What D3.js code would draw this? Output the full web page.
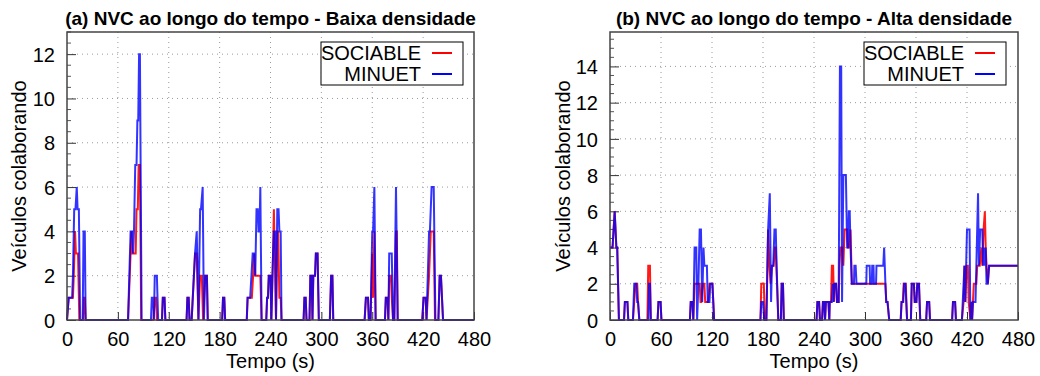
<!DOCTYPE html>
<html>
<head>
<meta charset="utf-8">
<script src="https://cdn.jsdelivr.net/npm/d3@7"></script>
<style>
  body { margin: 0; background: #ffffff; }
  text { font-family: "Liberation Sans", Arial, sans-serif; fill: #000; }
</style>
</head>
<body>
<script>
// Define SVG area dimensions
var svgWidth = 1040;
var svgHeight = 376;

// Tick values and labels
var xTicks = [0, 60, 120, 180, 240, 300, 360, 420, 480];
var yTicksA = [0, 2, 4, 6, 8, 10, 12];
var yTicksB = [0, 2, 4, 6, 8, 10, 12, 14];
var seriesNames = ["SOCIABLE", "MINUET"];
var titleA = "(a) NVC ao longo do tempo - Baixa densidade";
var titleB = "(b) NVC ao longo do tempo - Alta densidade";
var xLabel = "Tempo (s)";
var yLabel = "Veículos colaborando";

// (a) baixa densidade - [tempo, veiculos]
var sociableA = [[0,0],[2,1],[7,1],[8,2],[9.5,4],[10.5,3],[13,3],[14.5,0],
  [19,0],[20,1],[21,1],[22,0],
  [72,0],[75,3],[76,4],[77,3],[81,3],[82,5],[83.5,5],[84.5,7],[86,7],[87.5,0],
  [102,0],[103.5,1],[105,1],[106,0],
  [112,0],[113,1],[115,1],[116,0],
  [141,0],[142,1],[143.5,1],[144.5,0],
  [147,0],[151,3],[153,3],[155,0],[157,2],[159,2],[160.5,0],[163,2],[165,2],[166,0],
  [183,0],[184,1],[185.5,1],[186.5,0],
  [212,0],[213,1],[218,1],[219.5,2],[221,3],[222,2],[228,2],[229.5,0],
  [235,0],[236,1],[237,1],[238,2],[240,2],[241,0],[243,3],[244,5],[245,3],[246.5,0],[248,4],[249,4],[250.5,1],[252,1],[253,0],
  [279,0],[280,1],[281.5,1],[282.5,0],[286,0],[287,2],[288.5,2],[289.5,0],[290.5,2],[292.5,2],[293.5,3],[295.5,3],[297,0],
  [310,0],[311.5,2],[313,2],[314,0],
  [351,0],[352.5,1],[355,1],[356,0],[358,0],[360,3],[361,1],[362.5,4],[364,0],
  [375,0],[376,1],[378,1],[379,0],[380,2],[382,2],[383,1],[384.5,0],[386,0],[388,4],[389,4],[390,0],
  [419,0],[420.5,1],[423,1],[424,0],[427,2],[428,3],[429,4],[432.5,4],[434,0],[438,0],[439.5,2],[441,2],[443.5,0],[480,0]];

var minuetA = [[0,0],[2,1],[6,1],[7,2],[8.5,5],[10,5],[11.5,6],[12.5,5],[14,5],[15.5,0],
  [18.5,0],[19.5,4],[21,4],[22,0],
  [72,0],[75,4],[77,4],[78,3],[79,4],[80.5,7],[82,7],[83,9],[84,9],[85,12],[86,12],[88,0],
  [99,0],[100,1],[101.5,1],[102.5,0],[103.5,2],[106,2],[107.5,0],
  [112,0],[113,1],[115,1],[116,0],
  [141,0],[142,1],[143.5,1],[144.5,0],
  [147,0],[151,3],[153,4],[155,0],[157,5],[158,5],[160,6],[161.5,0],[163,2],[165,2],[166,0],
  [183,0],[184,1],[185.5,1],[186.5,0],
  [212,0],[213,1],[216,1],[219,3],[221,3],[222,2],[223.5,5],[225,5],[226,4],[227,4],[228,6],[229.5,0],
  [235,0],[236,1],[237,1],[238,2],[240,2],[241,0],[243,3],[244,4],[245.5,4],[246.5,0],[248,5],[249.5,5],[250.5,4],[252,4],[253,0],
  [279,0],[280,1],[281.5,1],[282.5,0],[286,0],[287,2],[288.5,2],[289.5,0],[290.5,2],[292.5,2],[293.5,3],[295.5,3],[297,0],
  [310,0],[311.5,2],[313,2],[314,0],
  [351,0],[352.5,1],[355,1],[356,0],[358,0],[360,4],[361,4],[362.5,6],[364,0],
  [375,0],[376,1],[378,1],[379,0],[380,3],[383,3],[384.5,0],[386,0],[388,6],[390,0],
  [419,0],[420.5,1],[423,1],[424,0],[427,4],[428,4],[430,6],[432.5,6],[434.5,0],[438,0],[439.5,2],[441,2],[443.5,0],[480,0]];

// (b) alta densidade
var sociableB = [[0,4],[3,4],[5.5,6],[7.5,4],[8.5,4],[10.5,0],
  [16.5,0],[17.5,1],[20.5,1],[21.5,0],
  [27,0],[28.5,1],[30,2],[32,2],[33,1],[34.5,0],
  [44,0],[45,3],[47,3],[48,0],
  [56,0],[57,1],[59.5,1],[60.5,0],
  [94,0],[95,1],[97,1],[98,0],[99.5,2],[103.5,2],[105.5,2],[106.5,1],[107.5,1],[109,2],[111,2],[112,1],[115.5,1],[117,2],[120.5,2],[122.5,0],
  [177,0],[178,2],[181,2],[182,0],[184,0],[186,5],[187.5,3],[189,2],[190.5,3],[192.5,3],[194,4],[195,4],[196.5,2],[198,0],
  [201,0],[202,2],[203.5,2],[204.5,0],
  [243,0],[244,1],[246,1],[247,0],[249.5,0],[250.5,1],[252,1],[253,0],[254,1],[257,1],[258,0],[258.5,1],[260,1],[261,3],[262.5,3],[263.5,1],[264,2],[266,2],[267,1],[269,1],[270,3],[271,4],[273,4],[274.5,3],[276,5],[279,5],[280,4],[282,4],[283,5],[284.5,2],
  [322.5,2],[324,2],[325,1],[326.5,1],[328.5,0],
  [342,0],[343,1],[344.5,1],[345.5,2],[348,2],[349.5,0],[354,0],[355,2],[357.5,2],[358.5,1],[360.5,1],[361.5,2],[363.5,2],[365,0],
  [372,0],[373,1],[375.5,1],[376.5,0],
  [402.5,0],[403.5,1],[406,1],[407,0],
  [414,0],[416,1],[417,3],[418,1],[419.5,3],[421,3],[422,1],[424,0],[425,1],[426,0],[427,1],[428,2],[431,2],[432,3],[435,3],[437,4],[438,3],[439.5,5],[441,6],[442,4],[443,3],[444.5,2],[446,3],[480,3]];

var minuetB = [[0,4],[3,4],[5.5,6],[7.5,4],[8.5,4],[10.5,0],
  [16.5,0],[17.5,1],[20.5,1],[21.5,0],
  [27,0],[28.5,2],[31,2],[32,1],[33,1],[34.5,0],
  [45,0],[46,2],[47,2],[48,0],
  [56,0],[57,1],[59.5,1],[60.5,0],
  [94,0],[95,1],[97,1],[98,0],[99.5,4],[101.5,4],[102.5,0],[104,2],[105.5,5],[107,5],[108.5,1],[110,4],[111,3],[114,3],[115,1],[117,1],[118,2],[120.5,2],[122.5,0],
  [177,0],[178,1],[180,1],[181.5,0],[184,0],[186,5],[188,7],[189.5,1],[190.5,3],[192,3],[193.5,5],[195,5],[196,3],[198,0],
  [201,0],[202,2],[203.5,2],[204.5,0],
  [243,0],[244,1],[246,1],[247,0],[249.5,0],[250.5,1],[252,1],[253,0],[254,1],[257,1],[258,0],[258.5,1],[261,1],[262,2],[263,1],[264,2],[266,2],[267,1],[269,1],[270.5,14],[272,14],[273,1],[274.5,8],[277.5,8],[279,4],[280,4],[281,6],[282,6],[283,4],[284.5,2],
  [287,2],[287.5,3],[289,3],[290,2],[301.5,2],[302,3],[305.5,3],[306,2],[308,2],[308.5,3],[310,3],[310.5,2],[313,2],[313.5,3],[321.5,3],[322.5,4],[324,2],[325,1],[326.5,1],[328.5,0],
  [342,0],[343,1],[345,1],[346,2],[347.5,2],[349.5,0],[354,0],[355,2],[357.5,2],[358.5,1],[360.5,1],[361.5,2],[363.5,2],[365,0],
  [372,0],[373,1],[375.5,1],[376.5,0],
  [402.5,0],[403.5,1],[406,1],[407,0],
  [414,0],[417,3],[418,1],[420,5],[423,5],[424,0],[425,1],[426,0],[427,1],[430,1],[431,3],[433,7],[434,3],[435.5,5],[438,5],[439,3],[440,4],[441,3],[442,4],[443,2],[444.5,2],[446,3],[480,3]];

var seriesColors = ["#ff0000", "#0000ff"];

var svg = d3.select("body")
  .append("svg")
  .attr("width", svgWidth)
  .attr("height", svgHeight);

// one panel of the figure
function drawPanel(p) {
  var g = svg.append("g");

  var x = d3.scaleLinear().domain([0, 480]).range([p.left, p.right]);
  var y = d3.scaleLinear().domain([0, p.yMax]).range([p.bottom, p.top]);

  // dotted grid
  g.selectAll(".vgrid").data(xTicks.slice(1, -1)).enter().append("line")
    .attr("x1", d => x(d)).attr("x2", d => x(d))
    .attr("y1", p.top).attr("y2", p.bottom)
    .attr("stroke", "#9a9a9a").attr("stroke-width", 1)
    .attr("stroke-dasharray", "1,4");
  g.selectAll(".hgrid").data(p.yTicks.slice(1)).enter().append("line")
    .attr("x1", p.left).attr("x2", p.right)
    .attr("y1", d => y(d)).attr("y2", d => y(d))
    .attr("stroke", "#9a9a9a").attr("stroke-width", 1)
    .attr("stroke-dasharray", "1,4");

  // axes with inward ticks
  var xAxis = g.append("g")
    .attr("transform", "translate(0," + p.bottom + ")")
    .call(d3.axisBottom(x).tickValues(xTicks).tickSizeInner(-8).tickSizeOuter(0).tickPadding(12));
  var yAxis = g.append("g")
    .attr("transform", "translate(" + p.left + ",0)")
    .call(d3.axisLeft(y).tickValues(p.yTicks).tickSizeInner(-9).tickSizeOuter(0).tickPadding(12));
  [xAxis, yAxis].forEach(function(a) {
    a.select(".domain").remove();
    a.selectAll("line").attr("stroke", "#333");
    a.selectAll("text")
      .style("font-family", "'Liberation Sans', Arial, sans-serif")
      .style("font-size", "20px")
      .attr("fill", "#000");
  });
  yAxis.selectAll("text").attr("dy", "0.36em");

  // minor y ticks
  var minor = d3.range(0, p.yMax + 0.01, 0.5).filter(d => d % 2 !== 0);
  g.selectAll(".minor").data(minor).enter().append("line")
    .attr("x1", p.left).attr("x2", p.left + 4)
    .attr("y1", d => y(d)).attr("y2", d => y(d))
    .attr("stroke", "#555").attr("stroke-width", 1);

  // series lines: SOCIABLE underneath, MINUET on top
  var line = d3.line().x(d => x(d[0])).y(d => y(d[1]));
  g.append("path").datum(p.sociable)
    .attr("d", line).attr("fill", "none")
    .attr("stroke", seriesColors[0]).attr("stroke-width", 2)
    .attr("stroke-linejoin", "miter").attr("stroke-opacity", 0.9);
  g.append("path").datum(p.minuet)
    .attr("d", line).attr("fill", "none")
    .attr("stroke", seriesColors[1]).attr("stroke-width", 2)
    .attr("stroke-linejoin", "miter").attr("stroke-opacity", 0.8);

  // frame
  g.append("rect")
    .attr("x", p.left).attr("y", p.top)
    .attr("width", p.right - p.left).attr("height", p.bottom - p.top)
    .attr("fill", "none").attr("stroke", "#444").attr("stroke-width", 1.5);

  // title
  g.append("text")
    .attr("x", (p.left + p.right) / 2).attr("y", 25)
    .attr("text-anchor", "middle")
    .style("font-size", "19px").style("font-weight", "bold")
    .text(p.title);

  // axis labels
  g.append("text")
    .attr("x", (p.left + p.right) / 2).attr("y", 368)
    .attr("text-anchor", "middle")
    .style("font-size", "20px")
    .text(xLabel);
  g.append("text")
    .attr("transform", "translate(" + p.yLabelX + "," + (p.top + p.bottom) / 2 + ") rotate(-90)")
    .attr("text-anchor", "middle")
    .style("font-size", "20px")
    .text(yLabel);

  // legend
  var lg = g.append("g");
  lg.append("rect")
    .attr("x", p.legX).attr("y", 42).attr("width", 142).attr("height", 43)
    .attr("fill", "#fff").attr("stroke", "#000").attr("stroke-width", 1);
  seriesNames.forEach(function(name, i) {
    var ly = 53 + i * 21;
    lg.append("text")
      .attr("x", p.legX + 100).attr("y", ly).attr("dy", "0.36em")
      .attr("text-anchor", "end")
      .style("font-size", "20px")
      .text(name);
    lg.append("line")
      .attr("x1", p.legX + 111).attr("x2", p.legX + 131)
      .attr("y1", ly).attr("y2", ly)
      .attr("stroke", seriesColors[i]).attr("stroke-width", 2);
  });
}

drawPanel({left: 67, right: 474, top: 32, bottom: 320, yMax: 13, yTicks: yTicksA,
  sociable: sociableA, minuet: minuetA, title: titleA, yLabelX: 26, legX: 321});
drawPanel({left: 610, right: 1018, top: 32, bottom: 320, yMax: 15.9, yTicks: yTicksB,
  sociable: sociableB, minuet: minuetB, title: titleB, yLabelX: 570, legX: 864});
</script>
</body>
</html>
